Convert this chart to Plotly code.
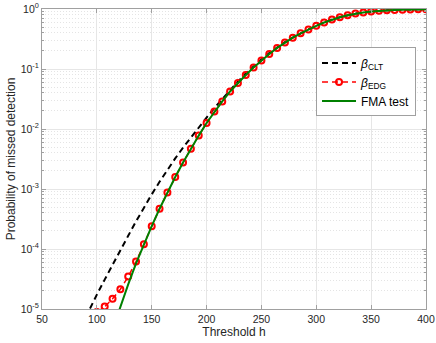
import plotly.graph_objects as go

# Threshold grid (h)
h = [50.00, 57.14, 64.29, 71.43, 78.57, 85.71, 92.86, 100.00, 107.14, 114.29,
     121.43, 128.57, 135.71, 142.86, 150.00, 157.14, 164.29, 171.43, 178.57, 185.71,
     192.86, 200.00, 207.14, 214.29, 221.43, 228.57, 235.71, 242.86, 250.00, 257.14,
     264.29, 271.43, 278.57, 285.71, 292.86, 300.00, 307.14, 314.29, 321.43, 328.57,
     335.71, 342.86, 350.00, 357.14, 364.29, 371.43, 378.57, 385.71, 392.86, 400.00]

tail = [0.5248, 0.5957, 0.6653, 0.7295, 0.7889, 0.8375, 0.8770, 0.9078, 0.9311,
        0.9506, 0.9638, 0.9750, 0.9840, 0.9886, 0.9931]

beta_clt = [None, None, None, None, None,
            5.129e-6, 9.550e-6, 1.738e-5, 3.090e-5, 5.495e-5,
            9.550e-5, 1.660e-4, 2.884e-4, 4.898e-4, 8.128e-4,
            1.318e-3, 2.089e-3, 3.236e-3, 4.898e-3, 7.244e-3,
            1.072e-2, 1.549e-2, 2.239e-2, 3.162e-2, 4.467e-2,
            6.166e-2, 8.414e-2, 0.1122, 0.1445, 0.1841,
            0.2301, 0.2805, 0.3350, 0.3954, 0.4581] + tail

beta_edg = [None, None, None, None, None, None,
            7.08e-6, 8.91e-6, 1.096e-5, 1.479e-5,
            2.138e-5, 3.467e-5, 6.166e-5, 1.202e-4, 2.399e-4,
            4.677e-4, 8.710e-4, 1.585e-3, 2.754e-3, 4.677e-3,
            7.762e-3, 1.259e-2, 1.950e-2, 2.884e-2, 4.217e-2,
            5.821e-2, 7.943e-2, 0.1059, 0.1380, 0.1778,
            0.2249, 0.2767, 0.3327, 0.3936, 0.4571] + tail

fma = [None, None, None, None, None, None, None, None,
       1.905e-6, 4.677e-6,
       1.122e-5, 2.570e-5, 5.754e-5, 1.202e-4, 2.399e-4,
       4.677e-4, 8.710e-4, 1.585e-3, 2.754e-3, 4.677e-3,
       7.762e-3, 1.259e-2, 1.950e-2, 2.884e-2, 4.217e-2,
       5.821e-2, 7.943e-2, 0.1059, 0.1380, 0.1778,
       0.2249, 0.2767, 0.3327, 0.3936, 0.4571] + tail

x_ticks = [50, 100, 150, 200, 250, 300, 350, 400]
y_ticks = [1e-5, 1e-4, 1e-3, 1e-2, 1e-1, 1]
y_ticktext = ["10<sup>-5</sup>", "10<sup>-4</sup>", "10<sup>-3</sup>",
              "10<sup>-2</sup>", "10<sup>-1</sup>", "10<sup>0</sup>"]
y_minor = [m * d for d in [1e-5, 1e-4, 1e-3, 1e-2, 1e-1] for m in range(2, 10)]

FONT = "Liberation Sans, Arial, sans-serif"

fig = go.Figure()
fig.add_trace(go.Scatter(
    x=h, y=beta_clt, mode="lines", name="<i>β</i><sub>CLT</sub>",
    line=dict(color="black", width=2, dash="6px,4px")))
fig.add_trace(go.Scatter(
    x=h, y=beta_edg, mode="lines+markers", name="<i>β</i><sub>EDG</sub>",
    line=dict(color="#ff0000", width=1.5, dash="6px,4px"),
    marker=dict(symbol="circle-open", size=6, color="#ff0000",
                line=dict(width=2, color="#ff0000"))))
fig.add_trace(go.Scatter(
    x=h, y=fma, mode="lines", name="FMA test",
    line=dict(color="#008000", width=2)))

axis_common = dict(
    showline=True, linecolor="#a0a0a0", linewidth=1, mirror="ticks",
    ticks="inside", ticklen=4, tickcolor="#a0a0a0", automargin=False,
    gridcolor="#e6e6e6", gridwidth=1, zeroline=False,
    tickfont=dict(family=FONT, size=10.5, color="#262626"),
)

fig.update_xaxes(
    range=[50, 400], tickvals=x_ticks,
    title=dict(text="Threshold h", font=dict(family=FONT, size=12, color="#262626"), standoff=0),
    **axis_common)
fig.update_yaxes(
    type="log", range=[-5, 0], tickvals=y_ticks, ticktext=y_ticktext,
    title=dict(text="Probability of missed detection", font=dict(family=FONT, size=12, color="#262626"), standoff=2),
    minor=dict(tickvals=y_minor, ticks="inside", ticklen=2, tickcolor="#a0a0a0", showgrid=True,
               gridcolor="#e4e4e4", griddash="1px,2px", gridwidth=1),
    **axis_common)

fig.update_layout(
    width=436, height=343,
    margin=dict(l=42, r=10, t=9, b=34),
    paper_bgcolor="white", plot_bgcolor="white",
    font=dict(family=FONT, color="#262626"),
    legend=dict(x=0.974, y=0.872, xanchor="right", yanchor="top",
                bgcolor="white", bordercolor="#a0a0a0", borderwidth=1,
                font=dict(family=FONT, size=12, color="black"),
                tracegroupgap=0, itemwidth=34),
    showlegend=True,
)

fig.write_html("out.html", config={"displayModeBar": False},
               post_script="document.body.style.margin='0px';")
